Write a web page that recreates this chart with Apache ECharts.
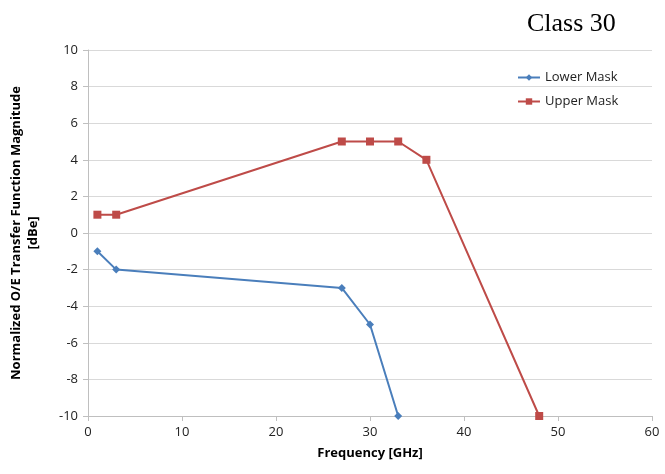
<!DOCTYPE html>
<html>
<head>
<meta charset="utf-8">
<script src="https://cdn.jsdelivr.net/npm/echarts@6/dist/echarts.min.js"></script>
<style>
  html, body { margin: 0; padding: 0; background: #fff; }
  #main { width: 665px; height: 474px; }
</style>
</head>
<body>
<div id="main"></div>
<script>
// data
const lowerFreq = [1, 3, 27, 30, 33];
const lowerMag = [-1, -2, -3, -5, -10];
const upperFreq = [1, 3, 27, 30, 33, 36, 48];
const upperMag = [1, 1, 5, 5, 5, 4, -10];

const pairs = (xs, ys) => xs.map((x, i) => [x, ys[i]]);
const font = "Open Sans";

const chart = echarts.init(document.getElementById("main"));
chart.setOption({
  animation: false,
  title: {
    text: "Class 30",
    left: 522,
    top: 6,
    textStyle: { fontFamily: "Liberation Serif", fontWeight: "normal", fontSize: 26, color: "#000" }
  },
  legend: {
    orient: "vertical",
    left: 512,
    top: 66,
    itemGap: 11,
    itemWidth: 22,
    itemHeight: 8,
    textStyle: { fontFamily: font, fontSize: 13, color: "#222" },
    data: ["Lower Mask", "Upper Mask"]
  },
  grid: { left: 86, right: 13, top: 50, bottom: 58 },
  xAxis: {
    type: "value",
    min: 0,
    max: 60,
    interval: 10,
    name: "Frequency [GHz]",
    nameLocation: "middle",
    nameGap: 31,
    nameTextStyle: { fontFamily: font, fontWeight: "bold", fontSize: 13, color: "#000" },
    axisLine: { onZero: false, lineStyle: { color: "#bfbfbf" } },
    axisTick: { show: true, length: 5, lineStyle: { color: "#bfbfbf" } },
    axisLabel: { fontFamily: font, fontSize: 13, color: "#222", margin: 10 },
    splitLine: { show: false }
  },
  yAxis: {
    type: "value",
    min: -10,
    max: 10,
    interval: 2,
    name: "Normalized O/E Transfer Function Magnitude\n[dBe]",
    nameLocation: "middle",
    nameGap: 46,
    nameTextStyle: { fontFamily: font, fontWeight: "bold", fontSize: 13, color: "#000", lineHeight: 17 },
    axisLine: { show: true, onZero: false, lineStyle: { color: "#bfbfbf" } },
    axisTick: { show: true, length: 5, lineStyle: { color: "#bfbfbf" } },
    axisLabel: { fontFamily: font, fontSize: 13, color: "#222", margin: 10 },
    splitLine: { lineStyle: { color: "#d9d9d9" } }
  },
  series: [
    {
      name: "Lower Mask",
      type: "line",
      data: pairs(lowerFreq, lowerMag),
      symbol: "diamond",
      symbolSize: 8,
      color: "#4a7ebb",
      lineStyle: { width: 2 }
    },
    {
      name: "Upper Mask",
      type: "line",
      data: pairs(upperFreq, upperMag),
      symbol: "rect",
      symbolSize: 8,
      color: "#be4b48",
      lineStyle: { width: 2 }
    }
  ]
});
</script>
</body>
</html>
